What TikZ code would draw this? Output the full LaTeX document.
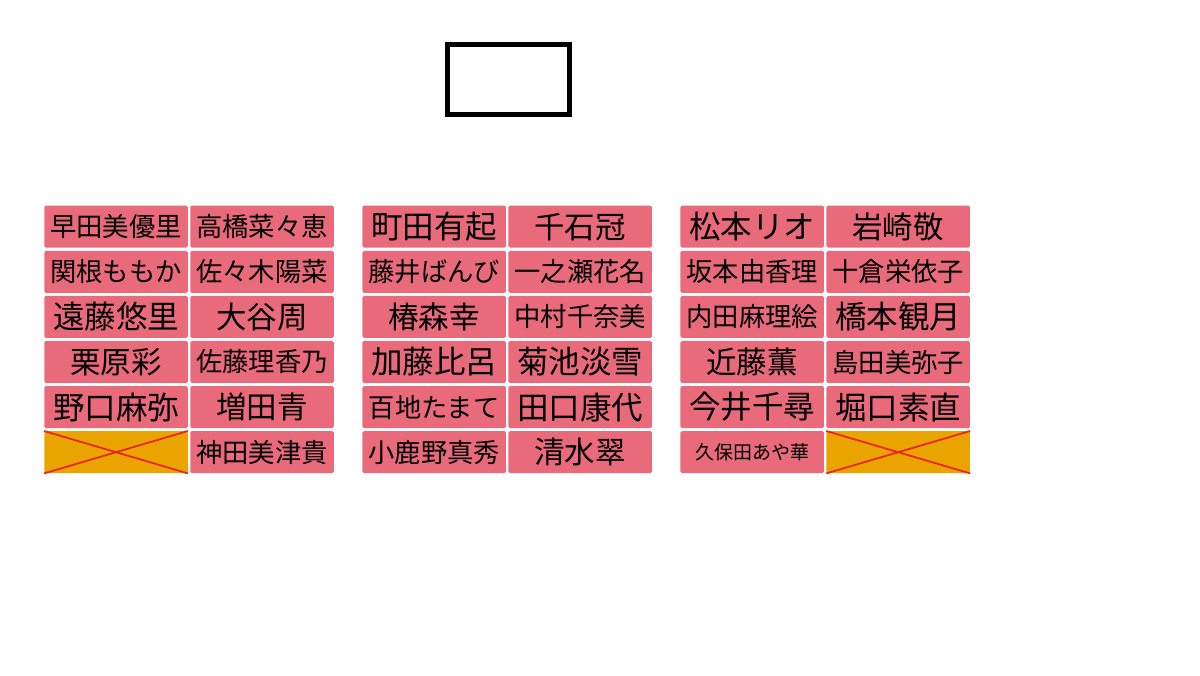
\documentclass[tikz,border=0pt]{standalone}
\usepackage{fontspec}
\newfontfamily\cjk{Noto Sans CJK JP}
\definecolor{boxpink}{RGB}{232,106,123}
\definecolor{boxamber}{RGB}{234,164,0}
\definecolor{crossred}{RGB}{232,38,28}
\begin{document}
\begin{tikzpicture}[x=1pt,y=-1pt,
  namebox/.style={fill=boxpink, rounded corners=1.5pt, minimum width=143.5pt, minimum height=42pt, inner sep=0pt, text=black},
  emptybox/.style={namebox, fill=boxamber},
  crossline/.style={draw=crossred, line width=1.8pt},
  sz3/.style={font=\cjk\fontsize{30.5pt}{32pt}\selectfont},
  sz4/.style={font=\cjk\fontsize{31.5pt}{33pt}\selectfont},
  sz5/.style={font=\cjk\fontsize{26.3pt}{28pt}\selectfont},
  sz6/.style={font=\cjk\fontsize{19pt}{21pt}\selectfont},
  frame/.style={draw=black, line width=5pt, minimum width=121.5pt, minimum height=70pt, inner sep=0pt}]
\useasboundingbox (0,0) rectangle (1200,676);
\node[frame] (top) at (508.3,79.8) {};
% group 1
\node[namebox,sz5] (a11) at (116,226.7) {早田美優里};
\node[namebox,sz5] (a12) at (262,226.7) {高橋菜々恵};
\node[namebox,sz5] (a21) at (116,271.8) {関根ももか};
\node[namebox,sz5] (a22) at (262,271.8) {佐々木陽菜};
\node[namebox,sz4] (a31) at (116,316.9) {遠藤悠里};
\node[namebox,sz3] (a32) at (262,316.9) {大谷周};
\node[namebox,sz3] (a41) at (116,362) {栗原彩};
\node[namebox,sz5] (a42) at (262,362) {佐藤理香乃};
\node[namebox,sz4] (a51) at (116,407.1) {野口麻弥};
\node[namebox,sz3] (a52) at (262,407.1) {増田青};
\node[emptybox] (a61) at (116,452.2) {};
\node[namebox,sz5] (a62) at (262,452.2) {神田美津貴};
\draw[crossline] (a61.north west) -- (a61.south east);
\draw[crossline] (a61.south west) -- (a61.north east);
% group 2
\node[namebox,sz4] (b11) at (434.2,226.7) {町田有起};
\node[namebox,sz3] (b12) at (580.2,226.7) {千石冠};
\node[namebox,sz5] (b21) at (434.2,271.8) {藤井ばんび};
\node[namebox,sz5] (b22) at (580.2,271.8) {一之瀬花名};
\node[namebox,sz3] (b31) at (434.2,316.9) {椿森幸};
\node[namebox,sz5] (b32) at (580.2,316.9) {中村千奈美};
\node[namebox,sz4] (b41) at (434.2,362) {加藤比呂};
\node[namebox,sz4] (b42) at (580.2,362) {菊池淡雪};
\node[namebox,sz5] (b51) at (434.2,407.1) {百地たまて};
\node[namebox,sz4] (b52) at (580.2,407.1) {田口康代};
\node[namebox,sz5] (b61) at (434.2,452.2) {小鹿野真秀};
\node[namebox,sz3] (b62) at (580.2,452.2) {清水翠};
% group 3
\node[namebox,sz4] (c11) at (752.2,226.7) {松本リオ};
\node[namebox,sz3] (c12) at (898.2,226.7) {岩崎敬};
\node[namebox,sz5] (c21) at (752.2,271.8) {坂本由香理};
\node[namebox,sz5] (c22) at (898.2,271.8) {十倉栄依子};
\node[namebox,sz5] (c31) at (752.2,316.9) {内田麻理絵};
\node[namebox,sz4] (c32) at (898.2,316.9) {橋本観月};
\node[namebox,sz3] (c41) at (752.2,362) {近藤薫};
\node[namebox,sz5] (c42) at (898.2,362) {島田美弥子};
\node[namebox,sz4] (c51) at (752.2,407.1) {今井千尋};
\node[namebox,sz4] (c52) at (898.2,407.1) {堀口素直};
\node[namebox,sz6] (c61) at (752.2,452.2) {久保田あや華};
\node[emptybox] (c62) at (898.2,452.2) {};
\draw[crossline] (c62.north west) -- (c62.south east);
\draw[crossline] (c62.south west) -- (c62.north east);
\end{tikzpicture}
\end{document}
